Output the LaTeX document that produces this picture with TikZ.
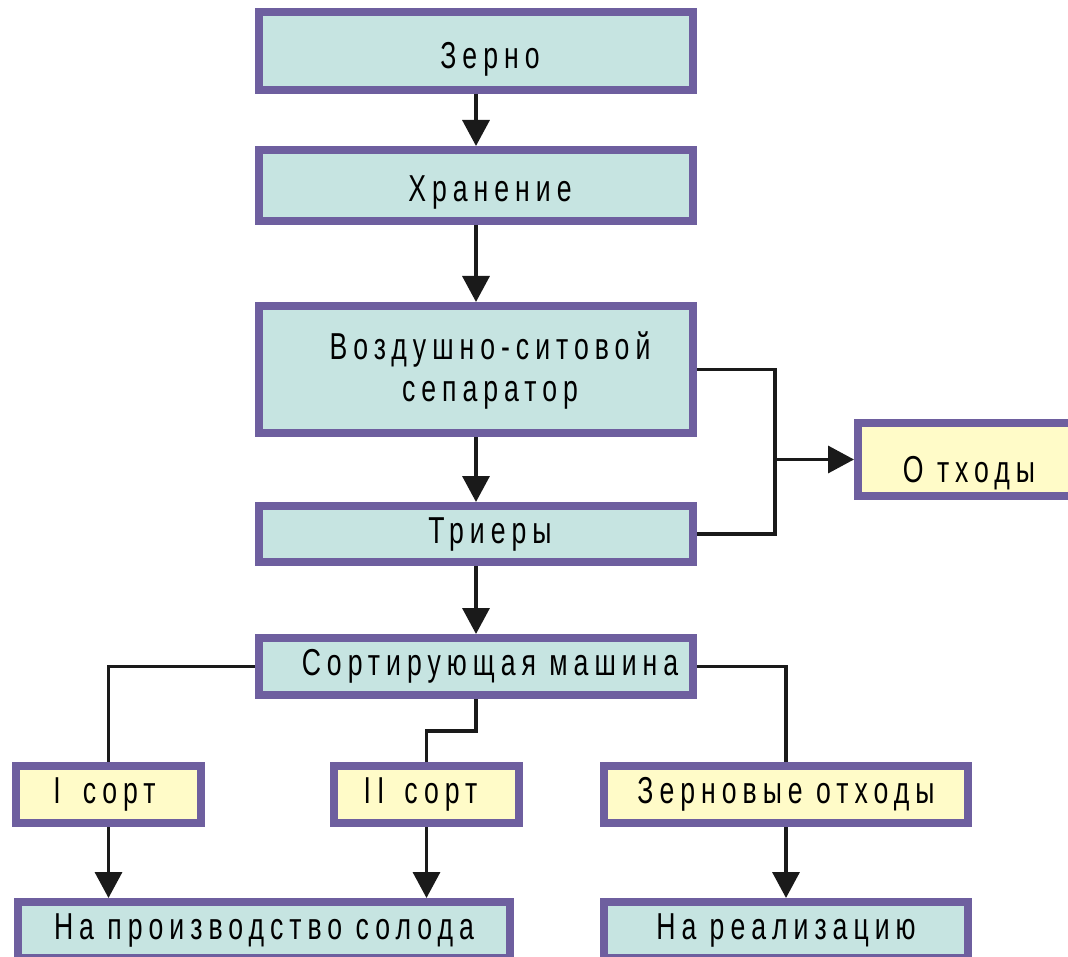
\documentclass[tikz,border=0pt]{standalone}
\usepackage{fontspec}
\setmainfont{Liberation Sans}[FakeStretch=0.71, LetterSpace=16]
\usetikzlibrary{arrows.meta}
\definecolor{boxcyan}{HTML}{C6E4E1}
\definecolor{boxyellow}{HTML}{FFFBC8}
\definecolor{boxborder}{HTML}{6E5F9F}
\definecolor{linecol}{HTML}{1A1A1A}
\newcommand{\sh}{\hspace*{28pt}}
\newcommand{\dn}[2]{\raisebox{-#1pt}[0pt][0pt]{#2}}
\tikzset{
  box/.style={draw=boxborder, line width=8pt, fill=boxcyan, inner sep=0pt,
    align=center, font=\fontsize{37.5}{42}\selectfont, text=black},
  ybox/.style={box, fill=boxyellow},
  conn/.style={draw=linecol, line width=3.5pt},
  arr/.style={conn, -{Triangle[width=27pt,length=26pt]}},
}
\begin{document}
\begin{tikzpicture}[x=1pt,y=-1pt]
\useasboundingbox (0,0) rectangle (1068,957);
% main column
\node[box, minimum width=434pt, minimum height=78pt] (z) at (476,51) {\dn{18}{\sh Зерно}};
\node[box, minimum width=434pt, minimum height=71pt] (h) at (476,185.5) {\dn{16.5}{\sh Хранение}};
\node[box, minimum width=434pt, minimum height=127pt] (v) at (476,369.5) {\dn{32.5}{\begin{tabular}[b]{@{}c@{}}\sh Воздушно-ситовой\\\sh сепаратор\end{tabular}}};
\node[box, minimum width=434pt, minimum height=56pt] (t) at (476,534) {\dn{9}{\sh Триеры}};
\node[box, minimum width=434pt, minimum height=57pt] (s) at (476,666.5) {\dn{9}{\sh Сортирующая машина}};
% side
\node[ybox, minimum width=228pt, minimum height=73pt] (o) at (972,459.5) {\dn{22.5}{\hspace*{-6pt}О тходы}};
% lower row
\node[ybox, minimum width=185pt, minimum height=57pt] (i) at (108.5,794.5) {\dn{9}{I\hspace{22pt}сорт\hspace*{8pt}}};
\node[ybox, minimum width=185pt, minimum height=57pt] (ii) at (426.5,794.5) {\dn{9}{II\hspace{20pt}сорт\hspace*{12pt}}};
\node[ybox, minimum width=364pt, minimum height=57pt] (zo) at (786,794.5) {\dn{9}{Зерновые отходы}};
\node[box, minimum width=492pt, minimum height=56pt] (np) at (264,930) {\dn{9}{На производство солода}};
\node[box, minimum width=364pt, minimum height=56pt] (nr) at (786,930) {\dn{9}{На реализацию}};
% connectors
\draw[arr] (z) -- (h);
\draw[arr] (h) -- (v);
\draw[arr] (v) -- (t);
\draw[arr] (t) -- (s);
\draw[conn] (v.east) -- ++(78,0) |- (t.east);
\coordinate (j) at (775,459.5);
\draw[arr] (j) -- (o.west);
\draw[conn] (s.west) -| (i.north);
\coordinate (st) at (476,731);
\draw[conn] (s.south) -- (st) -| (ii.north);
\draw[conn] (s.east) -| (zo.north);
\draw[arr] (i.south) -- (i.south |- np.north);
\draw[arr] (ii.south) -- (ii.south |- np.north);
\draw[arr] (zo) -- (nr);
\end{tikzpicture}
\end{document}
